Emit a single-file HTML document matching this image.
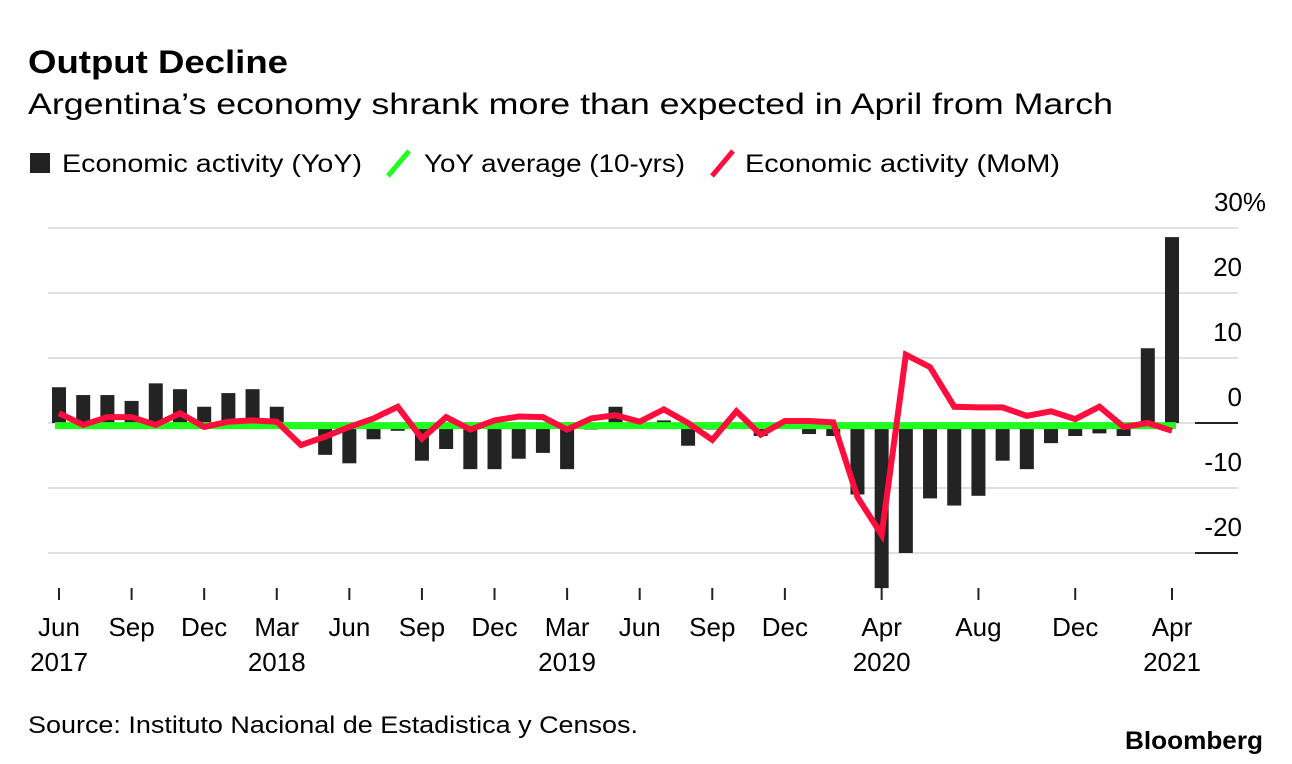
<!DOCTYPE html>
<html><head><meta charset="utf-8">
<style>
body{margin:0;background:#fff;width:1292px;height:764px;overflow:hidden;font-family:"Liberation Sans",Arial,sans-serif;color:#000}
svg{position:absolute;left:0;top:0}
</style></head>
<body>
<svg id="c" width="1292" height="764">
<text x="28" y="73" font-size="32" font-weight="bold" textLength="260" lengthAdjust="spacingAndGlyphs">Output Decline</text>
<text x="28" y="114" font-size="30" textLength="1085" lengthAdjust="spacingAndGlyphs">Argentina’s economy shrank more than expected in April from March</text>
<g>
<g><rect x="30" y="153" width="20" height="20" fill="#222"/><text x="62" y="172" font-size="25" textLength="300" lengthAdjust="spacingAndGlyphs">Economic activity (YoY)</text></g>
<g><line x1="388" y1="176" x2="409" y2="151" stroke="#1eff1e" stroke-width="5"/><text x="424" y="172" font-size="25" textLength="261" lengthAdjust="spacingAndGlyphs">YoY average (10-yrs)</text></g>
<g><line x1="712" y1="176" x2="733" y2="151" stroke="#ff0d3d" stroke-width="5"/><text x="745" y="172" font-size="25" textLength="315" lengthAdjust="spacingAndGlyphs">Economic activity (MoM)</text></g>
</g>
<g id="grid"></g><g id="bars"></g><g id="lines"></g><g id="axis"></g>
<text x="28" y="733" font-size="24" textLength="610" lengthAdjust="spacingAndGlyphs">Source: Instituto Nacional de Estadistica y Censos.</text>
<text x="1125" y="749" font-size="25" font-weight="bold" textLength="138" lengthAdjust="spacingAndGlyphs">Bloomberg</text>
</svg>
<script>
const months=['Jun','Jul','Aug','Sep','Oct','Nov','Dec','Jan','Feb','Mar','Apr','May','Jun','Jul','Aug','Sep','Oct','Nov','Dec','Jan','Feb','Mar','Apr','May','Jun','Jul','Aug','Sep','Oct','Nov','Dec','Jan','Feb','Mar','Apr','May','Jun','Jul','Aug','Sep','Oct','Nov','Dec','Jan','Feb','Mar','Apr'];
const yoy=[5.5,4.3,4.3,3.4,6.1,5.2,2.5,4.6,5.2,2.5,-0.5,-4.9,-6.2,-2.5,-1.2,-5.8,-4.0,-7.1,-7.1,-5.5,-4.6,-7.1,-1.0,2.5,-0.3,0.4,-3.5,-1.0,-0.5,-2.0,-0.4,-1.7,-2.0,-11.0,-25.4,-20.0,-11.6,-12.7,-11.2,-5.8,-7.1,-3.1,-2.0,-1.6,-2.0,11.5,28.6];
const mom=[1.5,-0.3,0.9,0.9,-0.3,1.5,-0.6,0.2,0.4,0.2,-3.4,-2.1,-0.6,0.7,2.5,-2.4,0.9,-1.0,0.4,1.0,0.9,-1.0,0.7,1.2,0.2,2.1,0,-2.6,1.8,-1.8,0.3,0.3,0.1,-11.4,-17.2,10.5,8.6,2.5,2.4,2.4,1.1,1.8,0.6,2.5,-0.6,0,-1.2];
const avgYoY=-0.4;
const yTicks=[30,20,10,0,-10,-20];
const xTickIdx=[0,3,6,9,12,15,18,21,24,27,30,34,38,42,46];
const xTickMonth=['Jun','Sep','Dec','Mar','Jun','Sep','Dec','Mar','Jun','Sep','Dec','Apr','Aug','Dec','Apr'];
const xTickYear=['2017','','','2018','','','','2019','','','','2020','','','2021'];
const NS='http://www.w3.org/2000/svg';
const X=i=>59+i*(1172-59)/46;
const Y=v=>423-v*6.5;
function mk(p,t,a){const e=document.createElementNS(NS,t);for(const k in a)e.setAttribute(k,a[k]);document.getElementById(p).appendChild(e);return e;}
yTicks.forEach(t=>{
 const l=mk('grid','line',{x1:48,x2:1238,y1:Y(t),y2:Y(t),stroke:'#e0e0e0','stroke-width':2});
 
 
 const tx=mk('grid','text',{x:1242,y:Y(t)-17,'font-size':26,'text-anchor':'end'});
 tx.textContent=t===30?'30%':String(t);
 if(t===30)tx.setAttribute('x',1266);
 
 
});
[0,-20].forEach(t=>{const l=mk('grid','line',{x1:1195,x2:1238,y1:Y(t),y2:Y(t),stroke:'#222','stroke-width':2});
 
 });
yoy.forEach((v,i)=>{
 const r=mk('bars','rect',{x:X(i)-7,width:14,y:Math.min(Y(v),Y(0)),height:Math.abs(Y(v)-Y(0)),fill:'#232323'});
 
 
});
const g=mk('lines','line',{x1:X(0)-4,x2:X(46)+4,y1:Y(avgYoY),y2:Y(avgYoY),stroke:'#1eff1e','stroke-width':7});


const p=mk('lines','polyline',{points:mom.map((v,i)=>X(i)+','+Y(v)).join(' '),fill:'none',stroke:'#ff0d3d','stroke-width':6,'stroke-linejoin':'miter'});


xTickIdx.forEach((i,k)=>{
 const l=mk('axis','line',{x1:X(i),x2:X(i),y1:588,y2:600,stroke:'#222','stroke-width':2});
 
 
 const t=mk('axis','text',{x:X(i),y:636,'font-size':26,'text-anchor':'middle'});
 t.textContent=xTickMonth[k];
 
 
 if(xTickYear[k]){const y=mk('axis','text',{x:X(i),y:671,'font-size':26,'text-anchor':'middle'});
 y.textContent=xTickYear[k];
 
 }
});
</script>
</body></html>
